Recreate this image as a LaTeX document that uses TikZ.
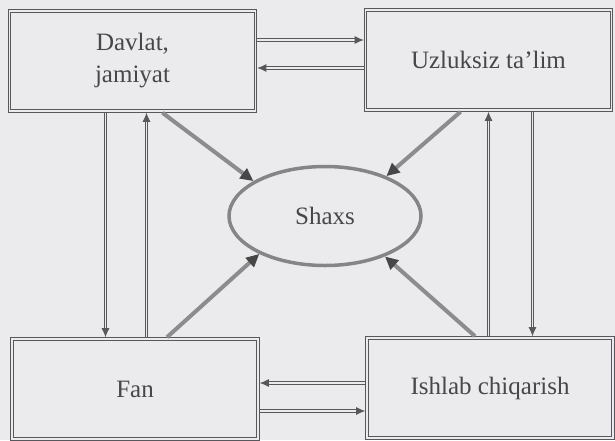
\documentclass[tikz,border=0pt]{standalone}
\usepackage{fontspec}
\setmainfont{Liberation Serif}
\usetikzlibrary{calc,arrows.meta,shapes}
\definecolor{scan}{RGB}{235,235,238}
\definecolor{ink}{RGB}{88,88,92}
\tikzset{
	block/.style={rectangle,draw=ink,double=scan,double distance=1.8pt,line width=0.9pt,outer sep=1.8pt,minimum width=246pt,minimum height=100pt,inner sep=2pt,text=black!72,align=center,font=\fontsize{25}{32}\selectfont},
	core/.style={ellipse,draw=black!48,line width=3.5pt,minimum width=192pt,minimum height=99pt,text=black!72,font=\fontsize{25}{32}\selectfont},
	link/.style={draw=ink,double=scan,double distance=1.8pt,line width=0.9pt,arrows={-Latex[length=9pt,width=8pt]}},
	influence/.style={draw=black!45,line width=4pt,arrows={-Triangle[length=13pt,width=12pt,color=black!72]}}
	}

\begin{document}
\begin{tikzpicture}[x=1pt,y=-1pt]
		\fill[scan] (0,0) rectangle (615,440);
		\useasboundingbox (0,0) rectangle (615,440);

		\node[block] (davlat) at (132.5,61) {Davlat,\\jamiyat};
		\node[block] (uzluksiz) at (488.5,60) {Uzluksiz ta’lim};
		\node[block] (fan) at (135,389) {Fan};
		\node[block] (ishlab) at (490,388) {Ishlab chiqarish};
		\node[core] (shaxs) at (325,216) {Shaxs};

		% double links between the blocks
		\draw[link] ([yshift=21pt]davlat.east) -- ([yshift=21pt]davlat.east -| uzluksiz.west);
		\draw[link] ([yshift=-7pt]davlat.east -| uzluksiz.west) -- ([yshift=-7pt]davlat.east);
		\draw[link] ([yshift=6pt]fan.east -| ishlab.west) -- ([yshift=6pt]fan.east);
		\draw[link] ([yshift=-22pt]fan.east) -- ([yshift=-22pt]fan.east -| ishlab.west);
		\draw[link] ([xshift=-27pt]davlat.south) -- ([xshift=-27pt]davlat.south |- fan.north);
		\draw[link] ([xshift=14pt]davlat.south |- fan.north) -- ([xshift=14pt]davlat.south);
		\draw[link] (uzluksiz.south |- ishlab.north) -- (uzluksiz.south);
		\draw[link] ([xshift=44pt]uzluksiz.south) -- ([xshift=44pt]uzluksiz.south |- ishlab.north);

		% everything points to the person
		\draw[influence] ([xshift=30pt]davlat.south) -- (shaxs.154);
		\draw[influence] ([xshift=-28pt]uzluksiz.south) -- (shaxs.33);
		\draw[influence] ([xshift=32pt]fan.north) -- (shaxs.210);
		\draw[influence] ([xshift=-15pt]ishlab.north) -- (shaxs.326);
	\end{tikzpicture}
\end{document}
